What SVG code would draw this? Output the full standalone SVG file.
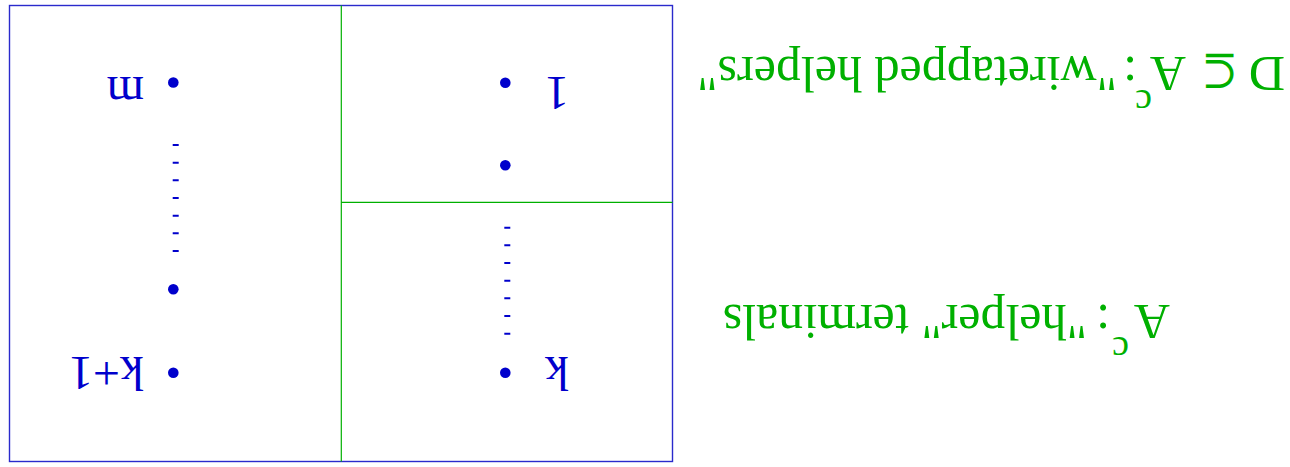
<svg xmlns="http://www.w3.org/2000/svg" width="1290" height="467" viewBox="0 0 1290 467">
<style>
.frame{fill:none;stroke:#2a2acc;stroke-width:1.4}
.div{fill:none;stroke:#00b000;stroke-width:1.2}
.dot{fill:#0000cc}
.dash{fill:none;stroke:#0000cc;stroke-width:6;stroke-dasharray:2 15.67}
.lbl{font-family:"Liberation Serif",serif;font-size:48px;fill:#0000cc}
.cap{font-family:"Liberation Serif",serif;font-size:50px;fill:#00b000}
.sup{font-size:38px}
.sym{font-family:"DejaVu Serif","DejaVu Sans",serif;font-size:44px}
</style>
<rect width="1290" height="467" fill="#ffffff"/>
<g transform="rotate(180 645 233.5)">
  <g id="frame">
    <rect class="frame" x="617.5" y="5.5" width="663" height="456"/>
  </g>
  <g id="dividers">
    <line class="div" x1="948.7" y1="5.5" x2="948.7" y2="461.5"/>
    <line class="div" x1="617.5" y1="264.7" x2="948.7" y2="264.7"/>
  </g>
  <g id="group-1-k">
    <circle class="dot" cx="784.7" cy="384.3" r="5.3"/>
    <circle class="dot" cx="784.7" cy="301.7" r="5.3"/>
    <line class="dash" x1="782.7" y1="132.3" x2="782.7" y2="240.3"/>
    <circle class="dot" cx="784.7" cy="94.3" r="5.3"/>
    <text class="lbl" x="745" y="390" text-anchor="end">1</text>
    <text class="lbl" x="745" y="110" text-anchor="end">k</text>
  </g>
  <g id="group-k1-m">
    <circle class="dot" cx="1116.7" cy="384.5" r="5.3"/>
    <line class="dash" x1="1114.3" y1="215" x2="1114.3" y2="323"/>
    <circle class="dot" cx="1116.7" cy="177.7" r="5.3"/>
    <circle class="dot" cx="1116.7" cy="94.3" r="5.3"/>
    <text class="lbl" x="1146" y="390">m</text>
    <text class="lbl" x="1146" y="110">k+1</text>
  </g>
  <g id="label-helpers">
    <text class="cap" x="120" y="162">A</text>
    <text class="cap sup" x="161" y="130">c</text>
    <text class="cap" x="180" y="162">:</text>
    <text class="cap" x="203" y="162">"helper" terminals</text>
  </g>
  <g id="label-wiretapped">
    <text class="cap" x="5" y="410">D</text>
    <text class="cap sym" x="52" y="410">⊆</text>
    <text class="cap" x="104" y="410">A</text>
    <text class="cap sup" x="138" y="377">c</text>
    <text class="cap" x="153" y="410">:</text>
    <text class="cap" x="173" y="410">"wiretapped helpers"</text>
  </g>
</g>
</svg>
